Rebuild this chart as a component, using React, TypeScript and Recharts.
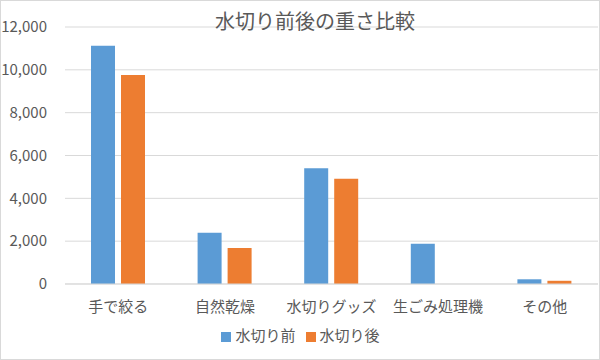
import { BarChart, Bar, XAxis, YAxis, CartesianGrid, Legend } from 'recharts';

const categories = ['手で絞る', '自然乾燥', '水切りグッズ', '生ごみ処理機', 'その他'];
const beforeValues = [11130, 2390, 5410, 1880, 220];
const afterValues = [9760, 1680, 4910, null, 150];
const yTicks = [0, 2000, 4000, 6000, 8000, 10000, 12000];

const data = categories.map((name, i) => ({
  name,
  before: beforeValues[i],
  after: afterValues[i]
}));

const font = '"Noto Sans CJK JP", "Noto Sans", sans-serif';
const textColor = '#595959';

export default function App() {
  return (
    <div
      style={{
        position: 'absolute',
        top: 0,
        left: 0,
        width: 600,
        height: 360,
        background: '#fff',
        border: '1px solid #d9d9d9',
        boxSizing: 'border-box',
        fontFamily: font
      }}
    >
      <div
        style={{
          position: 'absolute',
          top: 5,
          left: 0,
          width: 628,
          textAlign: 'center',
          fontSize: 20,
          color: textColor,
          zIndex: 1
        }}
      >
        水切り前後の重さ比較
      </div>
      <BarChart
        width={598}
        height={358}
        data={data}
        margin={{ top: 26, right: 1, left: 0, bottom: 14 }}
        barCategoryGap={26}
        barGap={6}
      >
        <CartesianGrid vertical={false} stroke="#d9d9d9" />
        <XAxis
          dataKey="name"
          axisLine={{ stroke: '#d9d9d9' }}
          tickLine={false}
          tickSize={0}
          tickMargin={17}
          height={40}
          tick={{ fontSize: 15, fill: textColor, fontFamily: font }}
          interval={0}
        />
        <YAxis
          domain={[0, 12000]}
          ticks={yTicks}
          axisLine={false}
          tickLine={false}
          tickSize={0}
          tickMargin={18}
          width={64}
          tick={{ fontSize: 15, fill: textColor, fontFamily: font }}
          tickFormatter={(v: number) => v.toLocaleString('en-US')}
        />
        <Legend
          verticalAlign="bottom"
          iconType="square"
          iconSize={10}
          wrapperStyle={{ fontSize: 15, fontFamily: font, paddingLeft: 6 }}
          formatter={(value: string) => <span style={{ color: textColor }}>{value}</span>}
        />
        <Bar dataKey="before" name="水切り前" fill="#5B9BD5" isAnimationActive={false} />
        <Bar dataKey="after" name="水切り後" fill="#ED7D31" isAnimationActive={false} />
      </BarChart>
    </div>
  );
}
